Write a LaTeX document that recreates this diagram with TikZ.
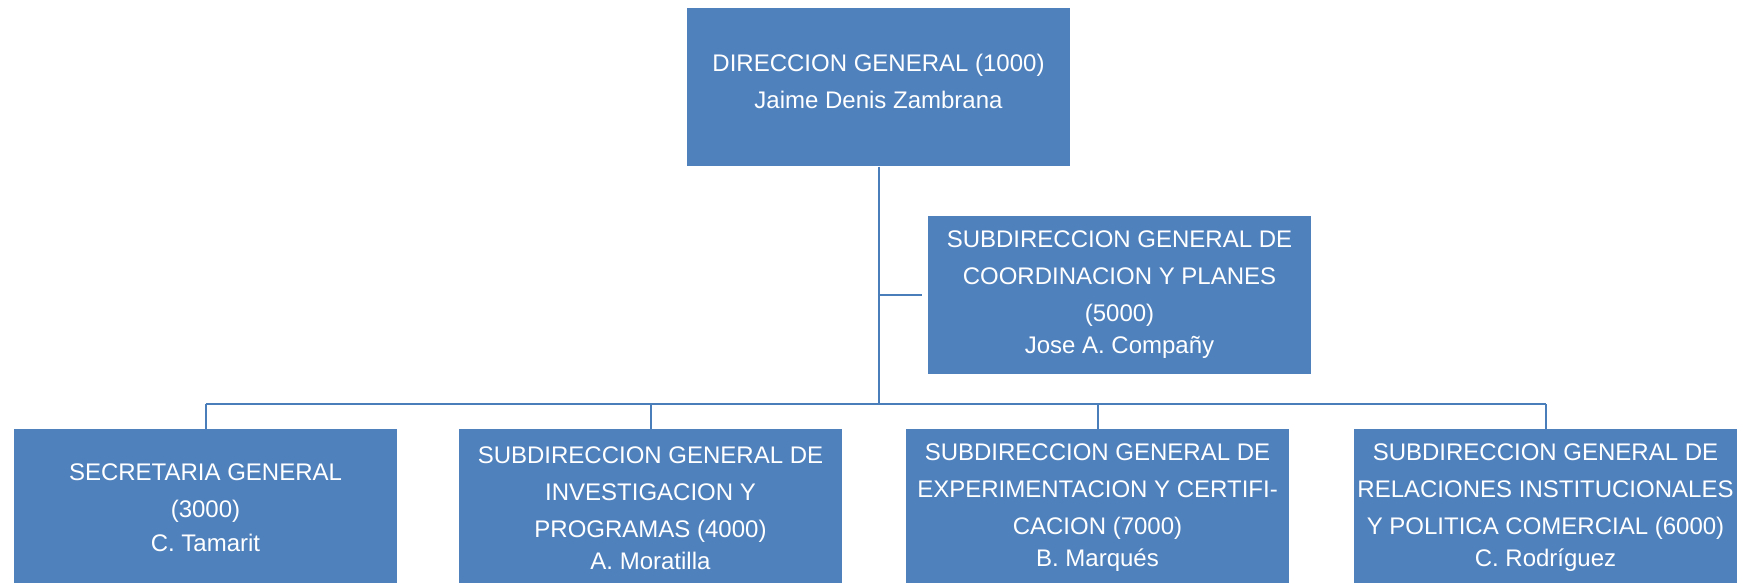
\documentclass[tikz,border=0pt]{standalone}
\usepackage{fontspec}
\setmainfont{Liberation Sans}
\usepackage{tikz}
\usetikzlibrary{calc}
\definecolor{orgblue}{RGB}{79,129,189}
\definecolor{orgline}{RGB}{74,126,187}

\begin{document}
\begin{tikzpicture}[x=1pt,y=1pt,
    unit/.style={rectangle,fill=orgblue,text=white,align=center,inner sep=0pt,
      minimum width=383pt,minimum height=158pt,font=\fontsize{24}{37}\selectfont},
    link/.style={draw=orgline,line width=2pt}]
    \useasboundingbox (0,0) rectangle (1740,582);
    % top
    \node[unit,text depth=12pt] (dir) at (878.5,494.5) {DIRECCION GENERAL (1000)\\Jaime Denis Zambrana};
    \node[unit] (coord) at (1119.5,287) {SUBDIRECCION GENERAL DE\\COORDINACION Y PLANES\\(5000)\\[-5pt]Jose A. Compañy};
    % bottom row
    \node[unit] (sec) at (205.5,74) {SECRETARIA GENERAL\\(3000)\\[-3pt]C. Tamarit};
    \node[unit] (inv) at (650.5,74) {SUBDIRECCION GENERAL DE\\INVESTIGACION Y\\PROGRAMAS (4000)\\[-5pt]A. Moratilla};
    \node[unit] (exp) at (1097.5,74) {SUBDIRECCION GENERAL DE\\EXPERIMENTACION Y CERTIFI-\\CACION (7000)\\[-5pt]B. Marqués};
    \node[unit] (rel) at (1545.5,74) {SUBDIRECCION GENERAL DE\\RELACIONES INSTITUCIONALES\\Y POLITICA COMERCIAL (6000)\\[-5pt]C. Rodríguez};
    % connectors
    \coordinate (bus) at (878.5,178);
    \draw[link] (dir.south) -- (bus);
    \draw[link,shorten >=6pt] (coord.west -| dir.south) -- (coord.west);
    \draw[link] (sec.north |- bus) -- (rel.north |- bus);
    \foreach \n in {sec,inv,exp,rel}{\draw[link] (\n.north |- bus) -- (\n.north);}
\end{tikzpicture}
\end{document}
